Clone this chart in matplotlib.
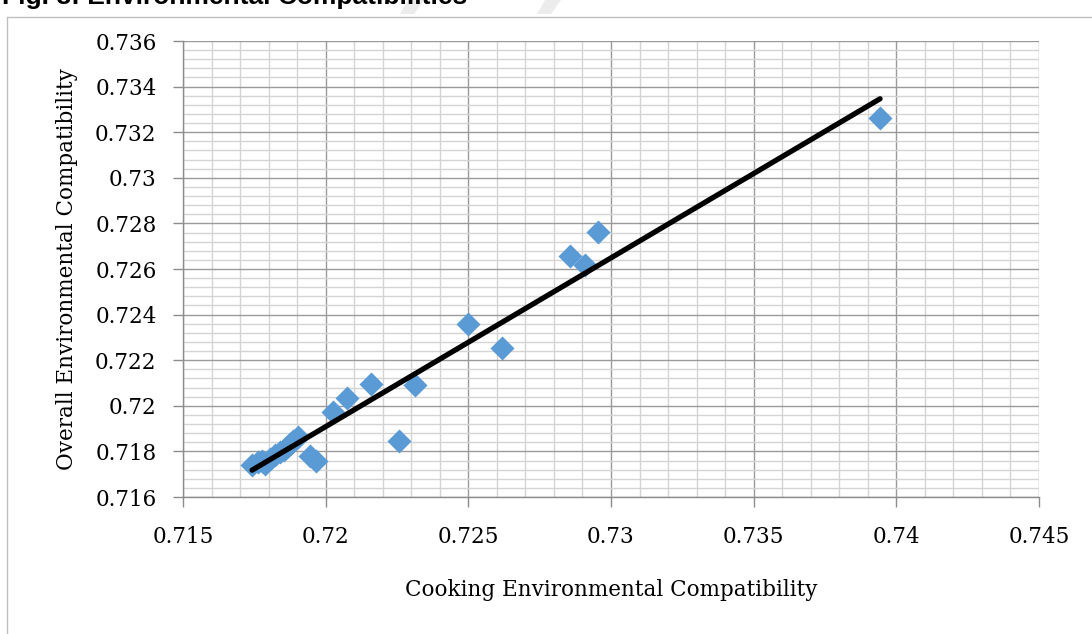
import matplotlib

matplotlib.use("Agg")

import matplotlib.pyplot as plt
import numpy as np
from matplotlib.patches import Rectangle, Polygon
from matplotlib.ticker import MultipleLocator, FuncFormatter

# Cooking vs overall environmental compatibility
cooking = [
    0.73943, 0.72955, 0.72856, 0.72909, 0.72499, 0.72618, 0.72159, 0.72313,
    0.72075, 0.72026, 0.72257, 0.71903, 0.71742, 0.71763, 0.71777, 0.71787,
    0.71805, 0.71822, 0.71840, 0.71854, 0.71865, 0.71875, 0.71886, 0.71945,
    0.71966,
]
overall = [
    0.73262, 0.72762, 0.72657, 0.72618, 0.72359, 0.72254, 0.72096, 0.72091,
    0.72034, 0.71973, 0.71846, 0.71863, 0.71740, 0.71754, 0.71758, 0.71745,
    0.71767, 0.71784, 0.71797, 0.71806, 0.71819, 0.71832, 0.71846, 0.71780,
    0.71758,
]

title = "Fig. 8: Environmental Compatibilities"
xlabel = "Cooking Environmental Compatibility"
ylabel = "Overall Environmental Compatibility"

W, H = 1092, 634
fig = plt.figure(figsize=(W / 100, H / 100), dpi=100)

# outer chart frame (runs off the right and bottom of the crop)
fig.patches.append(
    Rectangle((7 / W, -0.1), 1.2, 1.1 - 17 / H, transform=fig.transFigure,
              fill=False, edgecolor="#bfbfbf", lw=1.0)
)
# faint watermark strokes at the top
for x0 in (408, 545):
    fig.patches.append(
        Polygon([((x0) / W, 1), ((x0 + 16) / W, 1), ((x0 + 6) / W, 1 - 14 / H),
                 ((x0 - 8) / W, 1 - 14 / H)],
                closed=True, transform=fig.transFigure, facecolor="#ececec",
                edgecolor="none")
    )

fig.text(2 / W, 1 + 3 / H, title, fontsize=19, fontweight="bold",
         family="Liberation Sans", ha="left", va="center")

left, right, top, bottom = 183, 1039, 41, 497
ax = fig.add_axes([left / W, 1 - bottom / H, (right - left) / W, (bottom - top) / H])

ax.set_xlim(0.715, 0.745)
ax.set_ylim(0.716, 0.736)
ax.xaxis.set_major_locator(MultipleLocator(0.005))
ax.xaxis.set_minor_locator(MultipleLocator(0.001))
ax.yaxis.set_major_locator(MultipleLocator(0.002))
ax.yaxis.set_minor_locator(MultipleLocator(0.0004))
ax.xaxis.set_major_formatter(FuncFormatter(lambda v, _: f"{v:.3f}".rstrip("0")))
ax.yaxis.set_major_formatter(FuncFormatter(lambda v, _: f"{v:.3f}".rstrip("0")))

ax.grid(True, which="major", color="#9a9a9a", lw=1.0)
ax.grid(True, which="minor", color="#d4d4d4", lw=1.0)
ax.set_axisbelow(True)

for s in ("top", "right"):
    ax.spines[s].set_visible(False)
for s in ("left", "bottom"):
    ax.spines[s].set_color("#8c8c8c")
    ax.spines[s].set_linewidth(1.0)

ax.tick_params(which="major", length=7, width=1.0, color="#8c8c8c",
               labelsize=15.5, pad=12)
ax.tick_params(which="minor", length=0)
for lab in ax.get_xticklabels() + ax.get_yticklabels():
    lab.set_family("DejaVu Serif")
ax.tick_params(axis="x", pad=14)

ax.scatter(cooking, overall, marker="D", s=150, color="#5b9bd5", lw=0, zorder=3)

# linear trend line across the data range
slope, icpt = np.polyfit(cooking, overall, 1)
xs = np.array([min(cooking), max(cooking)])
ax.plot(xs, slope * xs + icpt, color="black", lw=3.8, zorder=4,
        solid_capstyle="round")

ax.set_xlabel(xlabel, family="DejaVu Serif", fontsize=15.5, labelpad=22)
ax.set_ylabel(ylabel, family="DejaVu Serif", fontsize=15.5, labelpad=12)

fig.savefig("out.png", dpi=100)
